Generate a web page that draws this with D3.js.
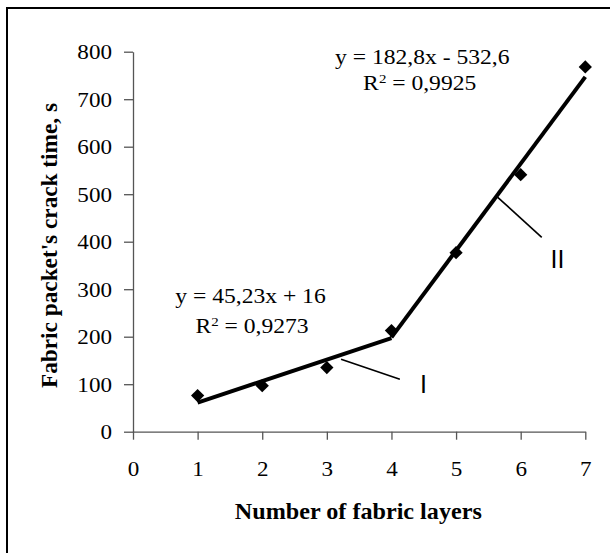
<!DOCTYPE html>
<html>
<head>
<meta charset="utf-8">
<script src="https://cdn.jsdelivr.net/npm/d3@7/dist/d3.min.js"></script>
<style>
  body { margin: 0; background: #fff; }
  svg { display: block; }
</style>
</head>
<body>
<div class="chart-div"></div>
<script>
// data
const layers = [1, 2, 3, 4, 5, 6, 7];
const crackTime = [76, 97, 135, 213, 377, 541, 768];
const xTicks = [0, 1, 2, 3, 4, 5, 6, 7];
const yTicks = [0, 100, 200, 300, 400, 500, 600, 700, 800];

// trend lines: slope, intercept, x range
const trendI = { a: 45.23, b: 16, from: 1, to: 4 };
const trendII = { a: 182.8, b: -532.6, from: 4, to: 7 };
const eqI = ["y = 45,23x + 16", "0,9273"];
const eqII = ["y = 182,8x - 532,6", "0,9925"];

const w = 610;
const h = 553;

const svg = d3.select(".chart-div")
  .append("svg")
  .attr("width", w)
  .attr("height", h);

// outer frame (only top/left visible)
svg.append("rect")
  .attr("x", 7).attr("y", 8)
  .attr("width", 700).attr("height", 700)
  .attr("fill", "none")
  .attr("stroke", "#000")
  .attr("stroke-width", 2);

const xScale = d3.scaleLinear().domain([0, 7]).range([133, 585.3]);
const yScale = d3.scaleLinear().domain([0, 800]).range([431.7, 51.7]);

const serif = "'Liberation Serif', 'Times New Roman', serif";
const sans = "'Liberation Sans', Arial, sans-serif";

// y axis
const yAxis = d3.axisLeft(yScale)
  .tickValues(yTicks)
  .tickFormat(d3.format("d"))
  .tickSize(9)
  .tickSizeOuter(0)
  .tickPadding(12);
const gy = svg.append("g")
  .attr("transform", `translate(${xScale(0)},0)`)
  .call(yAxis);

// x axis
const xAxis = d3.axisBottom(xScale)
  .tickValues(xTicks)
  .tickFormat(d3.format("d"))
  .tickSize(8)
  .tickSizeOuter(0)
  .tickPadding(21);
const gx = svg.append("g")
  .attr("transform", `translate(0,${yScale(0)})`)
  .call(xAxis);

[gx, gy].forEach(g => {
  g.attr("font-size", null).attr("font-family", null);
  g.select(".domain").attr("stroke", "#555").attr("stroke-width", 1.3);
  g.selectAll(".tick line").attr("stroke", "#555").attr("stroke-width", 1.3);
  g.selectAll(".tick text")
    .attr("fill", "#000")
    .attr("font-family", serif)
    .attr("font-size", 22)
    .attr("class", "stretch");
});

// trend lines
const line = d3.line().x(d => xScale(d[0])).y(d => yScale(d[1]));
[trendI, trendII].forEach(t => {
  svg.append("path")
    .attr("d", line([[t.from, t.a * t.from + t.b], [t.to, t.a * t.to + t.b]]))
    .attr("stroke", "#000")
    .attr("stroke-width", 4)
    .attr("stroke-linecap", "butt")
    .attr("fill", "none");
});

// markers
svg.selectAll("path.pt")
  .data(layers)
  .enter()
  .append("path")
  .attr("class", "pt")
  .attr("d", d3.symbol(d3.symbolSquare, 88)())
  .attr("transform", (d, i) => `translate(${xScale(d)},${yScale(crackTime[i])}) rotate(45)`)
  .attr("fill", "#000");

// pointers to the trend lines
const pointers = [
  { from: [3.22, 152.4], to: [4.13, 110.3], label: "I", at: [4.496, 81.5] },
  { from: [5.645, 493.5], to: [6.326, 409.3], label: "II", at: [6.57, 344.6] }
];
pointers.forEach(p => {
  svg.append("path")
    .attr("d", line([p.from, p.to]))
    .attr("stroke", "#000")
    .attr("stroke-width", 1.6)
    .attr("fill", "none");
  svg.append("text")
    .attr("x", xScale(p.at[0]))
    .attr("y", yScale(p.at[1]))
    .attr("text-anchor", "middle")
    .attr("font-family", sans)
    .attr("font-size", 25)
    .text(p.label);
});

// equations
function equation(lines, cx1, y1, cx2, y2) {
  svg.append("text")
    .attr("class", "stretch eq")
    .attr("x", cx1).attr("y", y1)
    .attr("text-anchor", "middle")
    .attr("font-family", serif)
    .attr("font-size", 20.5)
    .text(lines[0]);
  const t = svg.append("text")
    .attr("class", "stretch eq")
    .attr("x", cx2).attr("y", y2)
    .attr("text-anchor", "middle")
    .attr("font-family", serif)
    .attr("font-size", 20.5);
  t.append("tspan").text("R");
  t.append("tspan").attr("dy", -7).attr("font-size", 13).text("2");
  t.append("tspan").attr("dy", 7).text(" = " + lines[1]);
}
equation(eqI, 250.5, 302.7, 252, 333);
equation(eqII, 422.3, 64, 419.7, 89.5);

// axis titles
svg.append("text")
  .attr("x", 358.3).attr("y", 519)
  .attr("text-anchor", "middle")
  .attr("font-family", serif)
  .attr("font-weight", "bold")
  .attr("font-size", 24)
  .attr("textLength", 247)
  .attr("lengthAdjust", "spacingAndGlyphs")
  .text("Number of fabric layers");

svg.append("text")
  .attr("transform", "translate(57,245.5) rotate(-90)")
  .attr("text-anchor", "middle")
  .attr("font-family", serif)
  .attr("font-weight", "bold")
  .attr("font-size", 24)
  .attr("textLength", 285)
  .attr("lengthAdjust", "spacingAndGlyphs")
  .text("Fabric packet's crack time, s");

// the picture is a bit wider than the glyphs: stretch serif text horizontally
svg.selectAll("text.stretch").each(function () {
  const k = this.classList.contains("eq") ? 1.15 : 1.05;
  const len = this.getComputedTextLength();
  d3.select(this)
    .attr("textLength", len * k)
    .attr("lengthAdjust", "spacingAndGlyphs");
});
</script>
</body>
</html>
